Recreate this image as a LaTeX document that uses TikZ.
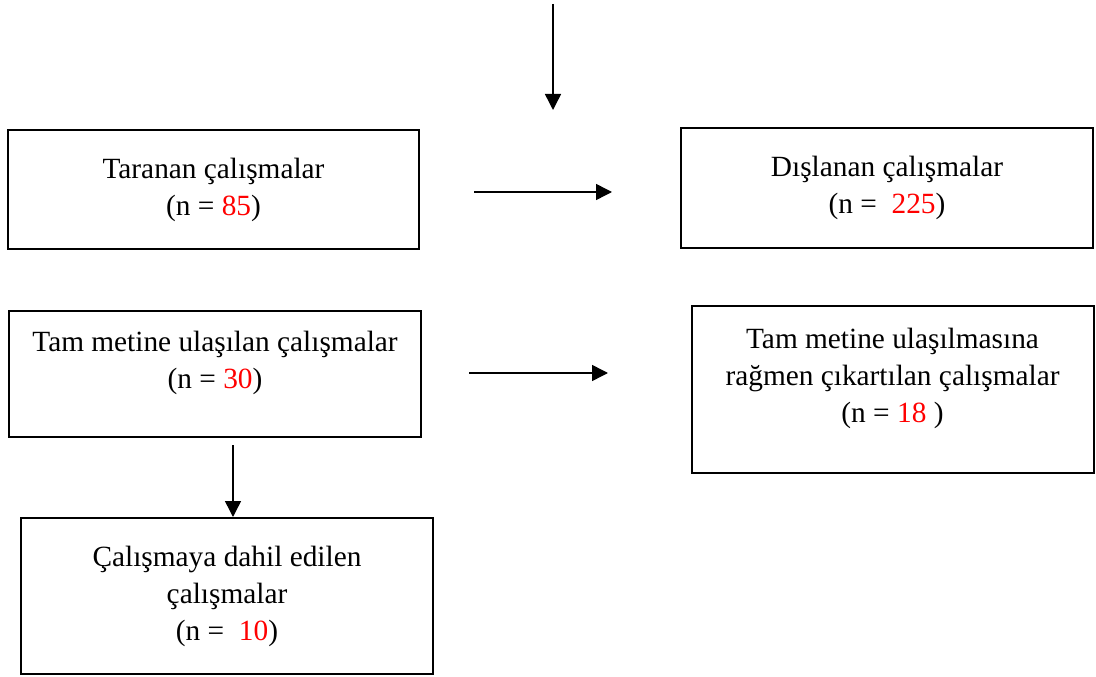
\documentclass[tikz,border=0pt]{standalone}
\usepackage{fontspec}
\setmainfont{Liberation Serif}
\usetikzlibrary{arrows.meta}
\begin{document}
\begin{tikzpicture}[x=0.75pt,y=-0.75pt,
  boxnode/.style={draw,line width=1.5pt,align=center,inner sep=0pt,font=\fontsize{22}{27.75}\selectfont},
  conn/.style={line width=1.1pt,-{Triangle[width=12pt,length=12pt]}}]
\useasboundingbox (0,0) rectangle (1096,677);
\node[boxnode,minimum width=308.25pt,minimum height=89.25pt] (tar) at (213.5,189.5)
  {Taranan çalışmalar\\(n = \textcolor{red}{85})};
\node[boxnode,minimum width=309pt,minimum height=90pt] (dis) at (887,188)
  {Dışlanan çalışmalar\\(n =\ \ \textcolor{red}{225})};
\node[boxnode,minimum width=309pt,minimum height=94.5pt] (tam) at (215,374)
  {Tam metine ulaşılan çalışmalar\\(n = \textcolor{red}{30})\\[-6pt]};
\node[boxnode,minimum width=301.5pt,minimum height=125.25pt] (cik) at (892.5,389.5)
  {Tam metine ulaşılmasına\\rağmen çıkartılan çalışmalar\\(n = \textcolor{red}{18} )\\[-6pt]};
\node[boxnode,minimum width=309pt,minimum height=117pt] (dah) at (227,596)
  {Çalışmaya dahil edilen\\çalışmalar\\(n =\ \ \textcolor{red}{10})};
\coordinate (t0) at (553,4);
\coordinate (t1) at (553,110);
\coordinate (a0) at (474,192);
\coordinate (a1) at (612,192);
\coordinate (b0) at (469,373);
\coordinate (b1) at (608,373);
\coordinate (c0) at (233,445);
\draw[conn] (t0) -- (t1);
\draw[conn] (a0) -- (a1);
\draw[conn] (b0) -- (b1);
\draw[conn] (c0) -- (c0 |- dah.north);
\end{tikzpicture}
\end{document}
